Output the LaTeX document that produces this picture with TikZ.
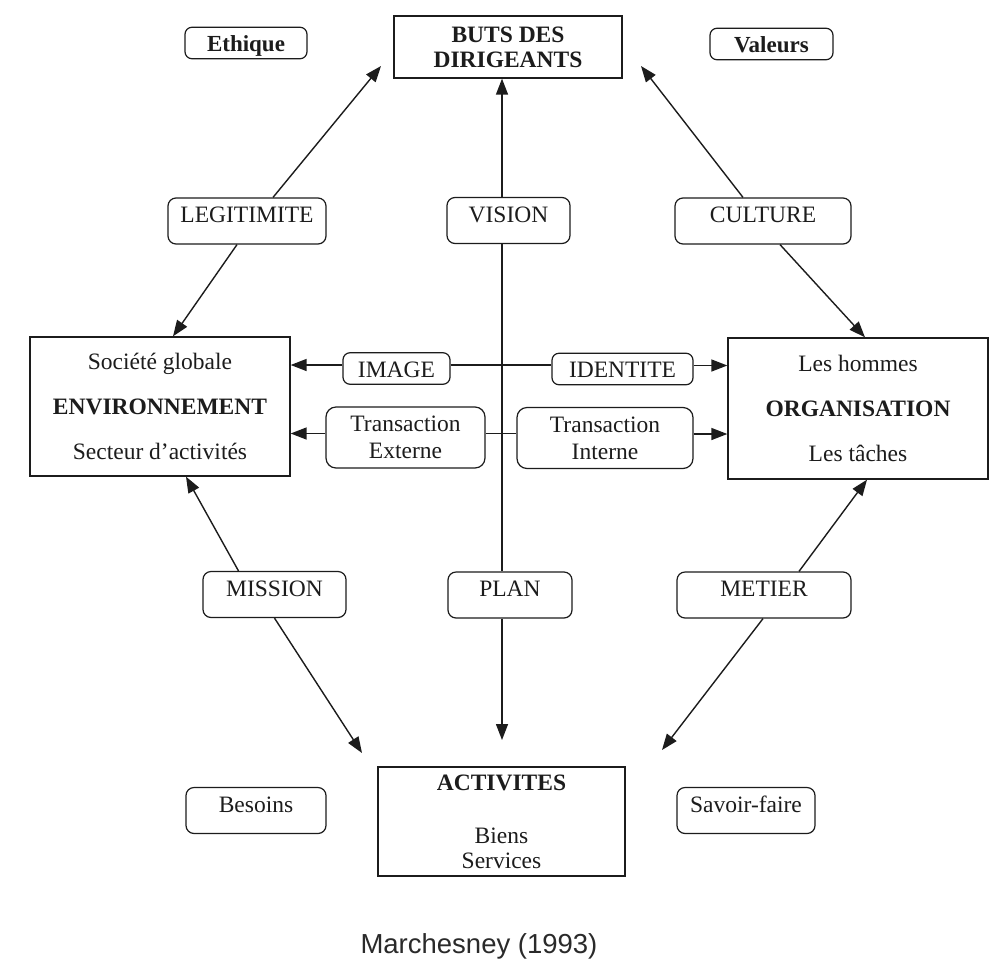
\documentclass[tikz,border=0pt]{standalone}
\usepackage{fontspec}
\setmainfont{Liberation Serif}
\newfontfamily\capfont{Liberation Sans}
\usetikzlibrary{arrows.meta,calc}
\definecolor{ink}{HTML}{1C1C1C}
\definecolor{captxt}{HTML}{2A2A2A}
\begin{document}
\begin{tikzpicture}[x=1pt,y=-1pt,
  every node/.style={font=\fontsize{23.5}{27}\selectfont, text=ink},
  lbl/.style={draw=ink, rounded corners=8pt, line width=1.2pt, inner sep=0pt,
    minimum width=#1, text height=24.5pt, text depth=21.5pt},
  lbls/.style={draw=ink, rounded corners=7pt, line width=1.2pt, inner sep=0pt,
    minimum width=#1, text height=24.5pt, text depth=7pt},
  lblt/.style={draw=ink, rounded corners=10pt, line width=1.2pt, inner sep=0pt,
    minimum width=#1, minimum height=61pt, align=center,
    font=\fontsize{23.5}{27}\selectfont},
  bigbox/.style={draw=ink, line width=1.3pt, inner sep=0pt, align=center},
  arr/.style={draw=ink, line width=1.4pt, -{Triangle[length=16pt,width=12pt]}},
  ln/.style={draw=ink, line width=1.4pt}
]
\useasboundingbox[fill=white] (0,0) rectangle (1001,967);

% main boxes
\node[bigbox, minimum width=228pt, minimum height=62pt,
  font=\fontsize{23.5}{25}\selectfont\bfseries] (BUTS) at (508,47) {BUTS DES\\DIRIGEANTS};
\node[bigbox, minimum width=260pt, minimum height=139pt] (ENV) at (160,406.5)
  {Société globale\\[18pt]\textbf{ENVIRONNEMENT}\\[18pt]Secteur d’activités};
\node[bigbox, minimum width=260pt, minimum height=141pt] (ORG) at (858,408.5)
  {Les hommes\\[18pt]\textbf{ORGANISATION}\\[18pt]Les tâches};
\node[bigbox, minimum width=247pt, minimum height=109pt,
  font=\fontsize{23.5}{25}\selectfont] (ACT) at (501.5,821.5)
  {\textbf{ACTIVITES}\\[28pt]Biens\\Services};

% corner labels
\node[lbls=122pt, font=\fontsize{23}{26}\selectfont\bfseries] (ETH) at (246,43) {Ethique};
\node[lbls=123pt, font=\fontsize{23}{26}\selectfont\bfseries] (VAL) at (771.5,44) {Valeurs};
\node[lbl=140pt] (BES) at (256,810.5) {Besoins};
\node[lbl=138pt] (SAV) at (746,810.5) {Savoir-faire};

% relation labels
\node[lbl=158pt] (LEG) at (247,221) {LEGITIMITE};
\node[lbl=123pt] (VIS) at (508.5,220.5) {VISION};
\node[lbl=176pt] (CUL) at (763,221) {CULTURE};
\node[lbl=143pt] (MIS) at (274.5,594.5) {MISSION};
\node[lbl=124pt] (PLAN) at (510,595) {PLAN};
\node[lbl=174pt] (MET) at (764,595) {METIER};

\node[lbls=107pt] (IMG) at (396.5,368.5) {IMAGE};
\node[lbls=141pt] (IDE) at (622.5,369) {IDENTITE};
\node[lblt=159pt] (TEX) at (405.5,437.5) {Transaction\\Externe};
\node[lblt=176pt] (TIN) at (605,438) {Transaction\\Interne};

% caption
\node[font=\capfont\fontsize{27.5}{31}\selectfont, text=captxt] (CAP) at (479,946) {Marchesney (1993)};

% free ends and helpers
\coordinate (vx) at (502,0);
\coordinate (tipBL) at (381,66);
\coordinate (tipBR) at (641,66);
\coordinate (tipAL) at (362,753);
\coordinate (tipAR) at (662,750);
\coordinate (tipAC) at (502,740);
\coordinate (imgL) at ([yshift=3.5pt]IMG.west);
\coordinate (imgR) at ([yshift=3.5pt]IMG.east);
\coordinate (ideR) at ([yshift=3.5pt]IDE.east);
\coordinate (texL) at ([yshift=4pt]TEX.west);
\coordinate (texR) at ([yshift=4pt]TEX.east);
\coordinate (tinR) at ([yshift=4pt]TIN.east);

% diagonal connectors
\draw[arr] ([xshift=26pt]LEG.north) -- (tipBL);
\draw[arr] ([xshift=-10pt]LEG.south) -- ([xshift=13pt]ENV.north);
\draw[arr] ([xshift=-20pt]CUL.north) -- (tipBR);
\draw[arr] ([xshift=17pt]CUL.south) -- ([xshift=7pt]ORG.north);
\draw[arr] ([xshift=-36pt]MIS.north) -- ([xshift=26pt]ENV.south);
\draw[arr] (MIS.south) -- (tipAL);
\draw[arr] ([xshift=35pt]MET.north) -- ([xshift=9pt]ORG.south);
\draw[arr] ([xshift=-1pt]MET.south) -- (tipAR);

% vertical axis
\draw[arr] (VIS.north -| vx) -- (BUTS.south -| vx);
\draw[ln] (VIS.south -| vx) -- (PLAN.north -| vx);
\draw[arr] (PLAN.south -| vx) -- (tipAC);

% horizontal axis
\draw[arr] (imgL) -- (imgL -| ENV.east);
\draw[ln] (imgR) -- (imgR -| IDE.west);
\draw[arr] (ideR) -- (ideR -| ORG.west);
\draw[arr] (texL) -- (texL -| ENV.east);
\draw[ln] (texR) -- (texR -| TIN.west);
\draw[arr] (tinR) -- (tinR -| ORG.west);
\end{tikzpicture}
\end{document}
